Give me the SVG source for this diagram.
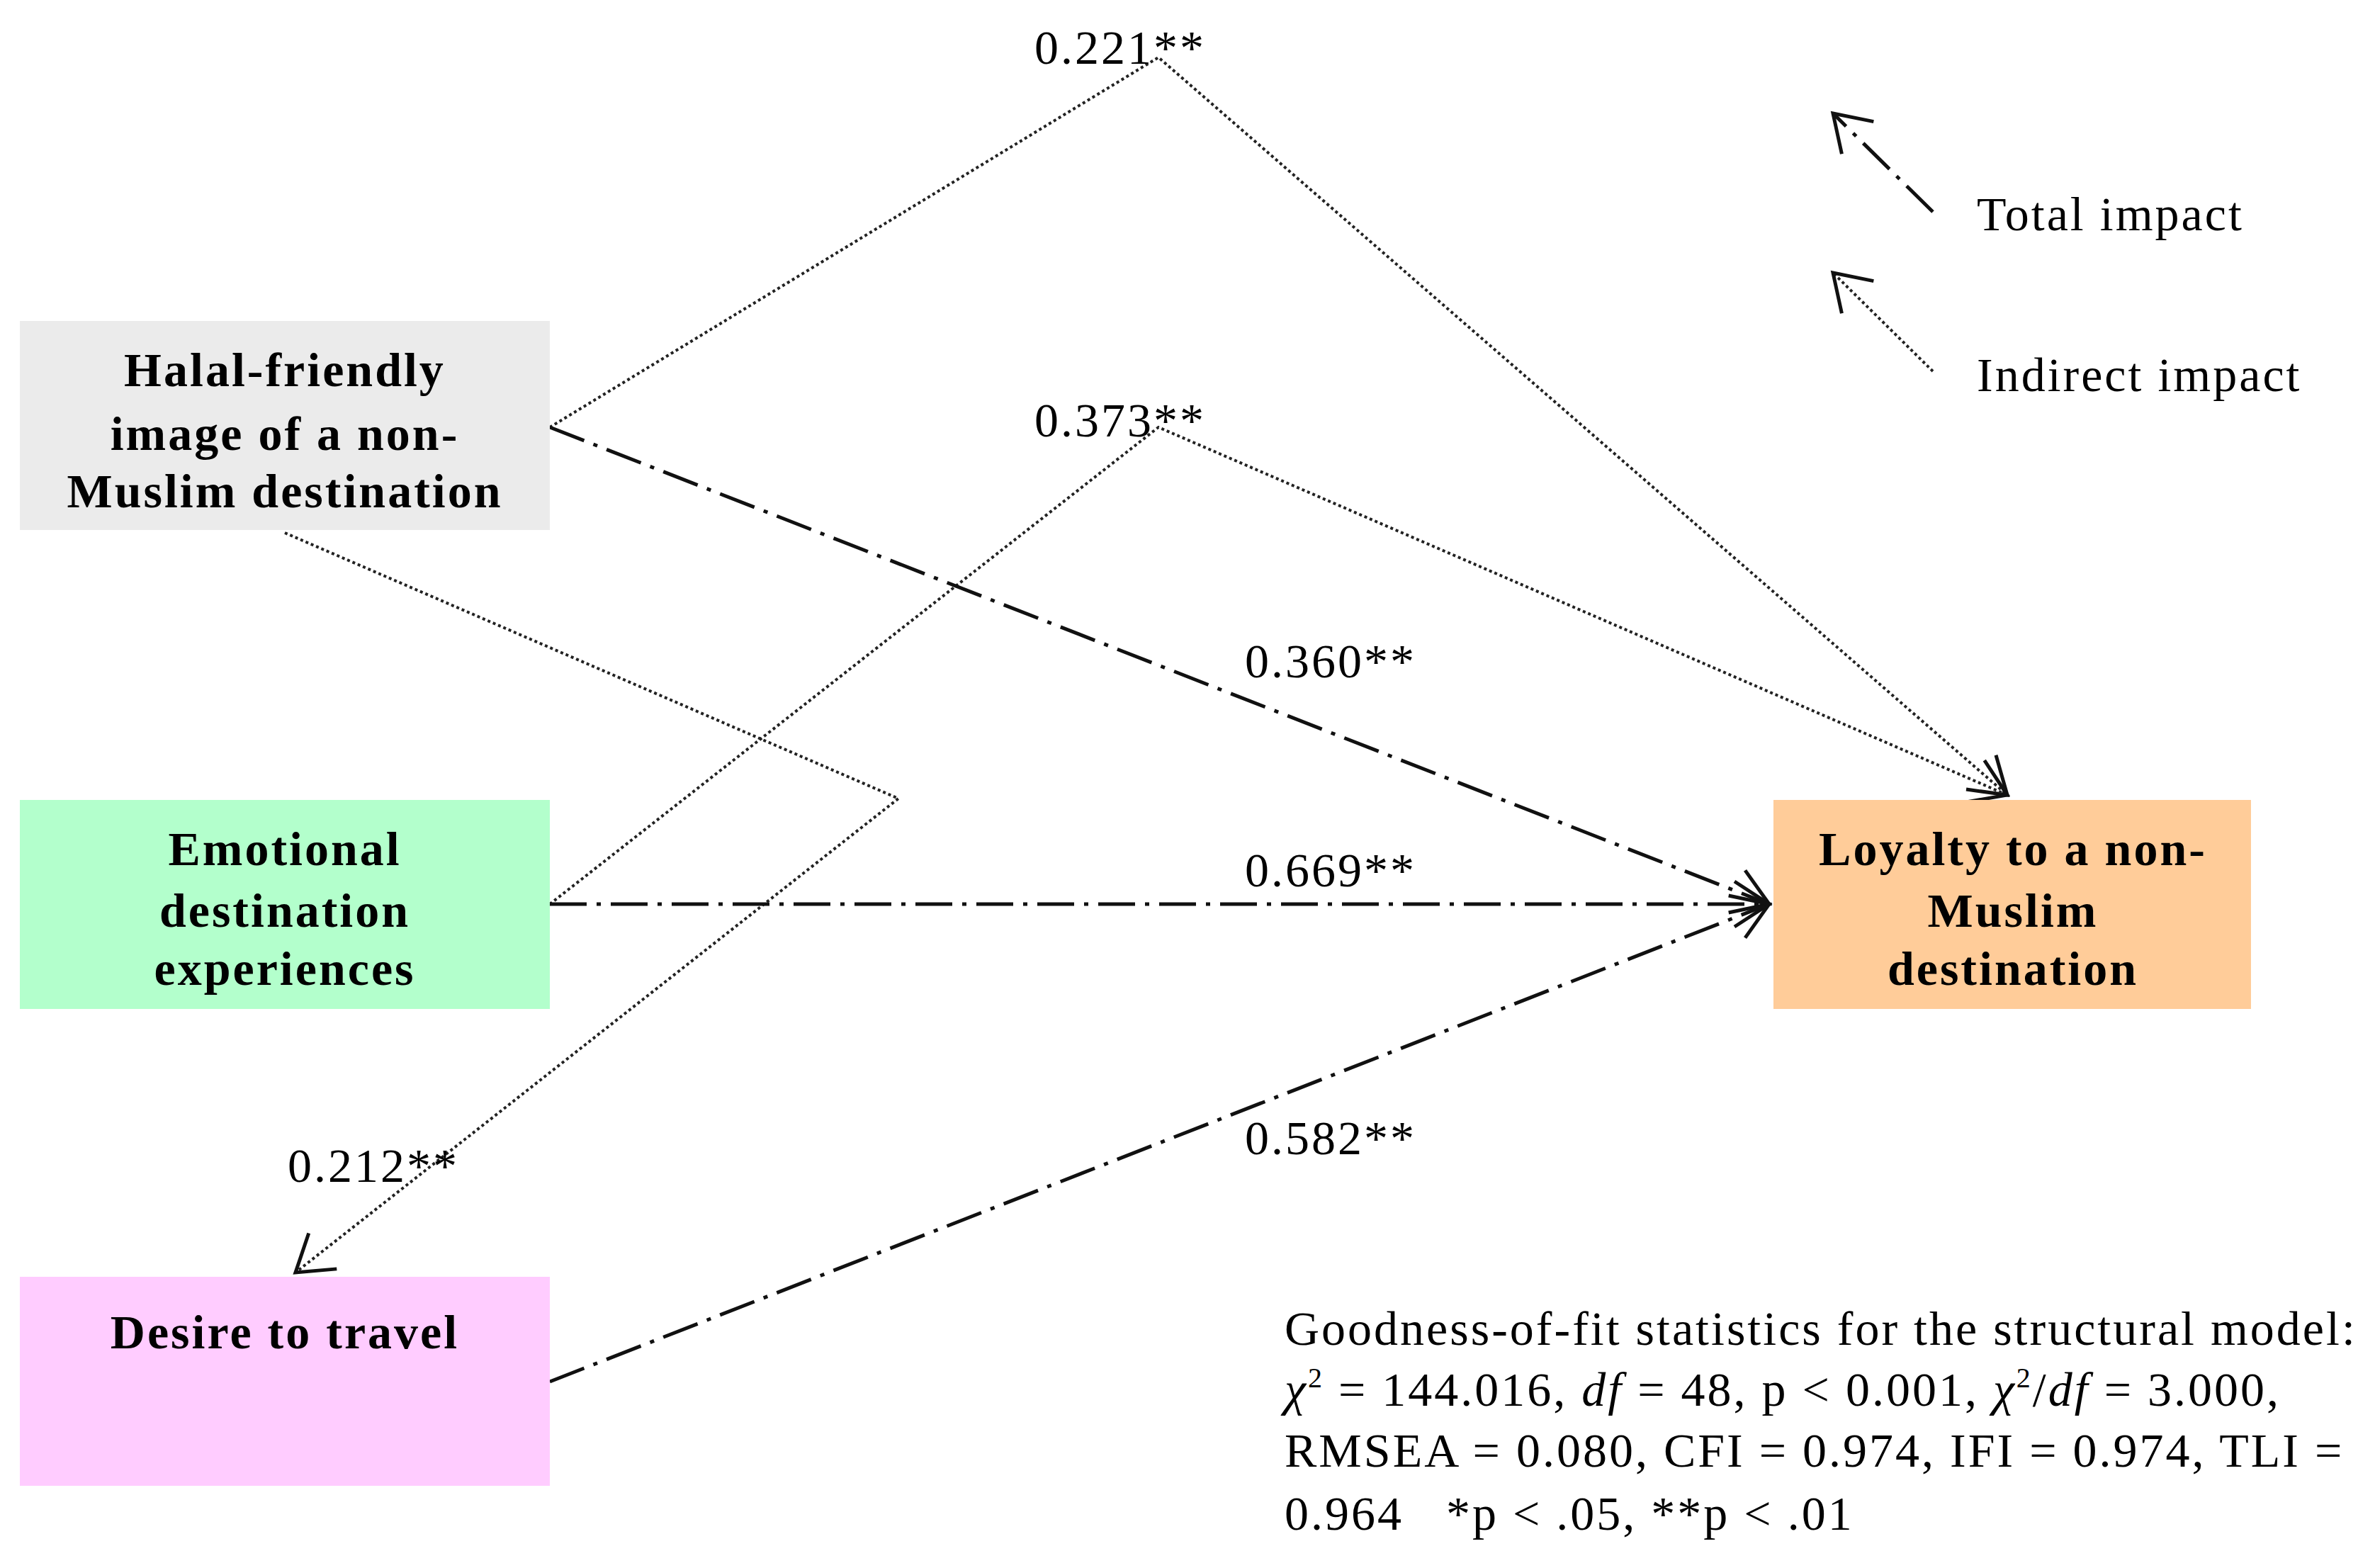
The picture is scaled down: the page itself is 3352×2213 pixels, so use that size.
<svg xmlns="http://www.w3.org/2000/svg" width="3352" height="2213" viewBox="0 0 3352 2213">
<style>
text{font-family:"Liberation Serif","Times New Roman",serif;font-size:68px;letter-spacing:3px;fill:#000}
.b{font-weight:bold;text-anchor:middle}
.dot{fill:none;stroke:#222;stroke-width:4;stroke-dasharray:4 4}
.dd{fill:none;stroke:#111;stroke-width:5;stroke-dasharray:52 14 6 14}
</style>
<defs>
<marker id="ar" viewBox="0 0 20 20" refX="19" refY="10" markerWidth="20" markerHeight="20" markerUnits="userSpaceOnUse" orient="auto" overflow="visible">
<path d="M-30,-22 L19,10 L-30,42" fill="none" stroke="#111" stroke-width="5"/>
</marker>
</defs>
<rect width="3352" height="2213" fill="#fff"/>
<g id="connectors">
<polyline class="dot" points="776,603 1635,81 2833,1122" marker-end="url(#ar)"/>
<polyline class="dot" points="776,1276 1635,603 2833,1122" marker-end="url(#ar)"/>
<polyline class="dot" points="402,752 1268,1127 417,1796" marker-end="url(#ar)"/>
<line class="dd" x1="776" y1="603" x2="2497" y2="1276" marker-end="url(#ar)"/>
<line class="dd" x1="776" y1="1276" x2="2497" y2="1276" marker-end="url(#ar)"/>
<line class="dd" x1="776" y1="1950" x2="2497" y2="1276" marker-end="url(#ar)"/>
<line class="dd" x1="2728" y1="299" x2="2587" y2="160" marker-end="url(#ar)"/>
<line class="dot" x1="2728" y1="524" x2="2587" y2="385" marker-end="url(#ar)"/>
</g>
<g id="halal"><rect x="28" y="453" width="748" height="295" fill="#ebebeb"/>
<text class="b" x="402" y="545">Halal-friendly</text><text class="b" x="402" y="635">image of a non-</text><text class="b" x="402" y="716">Muslim destination</text></g>
<g id="emotional"><rect x="28" y="1129" width="748" height="295" fill="#b3ffcc"/>
<text class="b" x="402" y="1221">Emotional</text><text class="b" x="402" y="1308">destination</text><text class="b" x="402" y="1390">experiences</text></g>
<g id="desire"><rect x="28" y="1802" width="748" height="295" fill="#ffccff"/>
<text class="b" x="402" y="1903">Desire to travel</text></g>
<g id="loyalty"><rect x="2503" y="1129" width="674" height="295" fill="#ffcc99"/>
<text class="b" x="2841" y="1221">Loyalty to a non-</text><text class="b" x="2841" y="1308">Muslim</text><text class="b" x="2841" y="1390">destination</text></g>
<g id="labels">
<text x="1460" y="90">0.221**</text>
<text x="1460" y="616">0.373**</text>
<text x="1757" y="956">0.360**</text>
<text x="1757" y="1251">0.669**</text>
<text x="1757" y="1629">0.582**</text>
<text x="406" y="1668">0.212**</text>
<text x="2790" y="325">Total impact</text>
<text x="2790" y="552">Indirect impact</text>
</g>
<g id="stats">
<text x="1813" y="1898">Goodness-of-fit statistics for the structural model:</text>
<text x="1813" y="1984"><tspan font-style="italic">χ</tspan><tspan font-size="40" dy="-26">2</tspan><tspan dy="26"> = 144.016, </tspan><tspan font-style="italic">df</tspan> = 48, p &lt; 0.001, <tspan font-style="italic">χ</tspan><tspan font-size="40" dy="-26">2</tspan><tspan dy="26">/</tspan><tspan font-style="italic">df</tspan> = 3.000,</text>
<text x="1813" y="2070">RMSEA = 0.080, CFI = 0.974, IFI = 0.974, TLI =</text>
<text x="1813" y="2159" xml:space="preserve">0.964   *p &lt; .05, **p &lt; .01</text>
</g>
</svg>
